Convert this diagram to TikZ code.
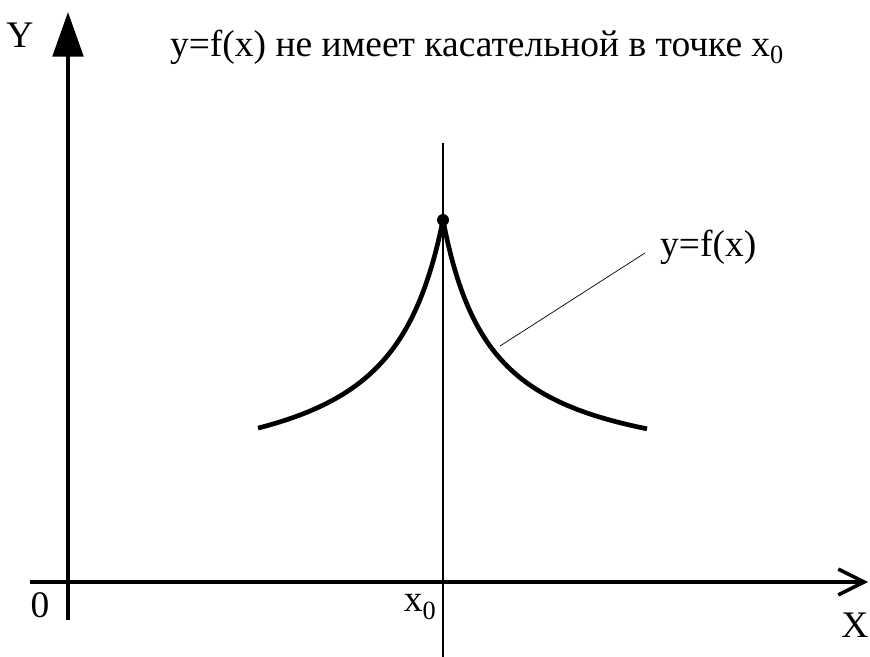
\documentclass[tikz,border=0pt]{standalone}
\usepackage{fontspec}
\setmainfont{Liberation Serif}
\usepackage{tikz}
\usetikzlibrary{arrows.meta,positioning}

\begin{document}
\begin{tikzpicture}[x=0.03cm, y=-0.03cm,
    lbl/.style={font=\fontsize{32}{37}\selectfont, inner sep=0pt},
    axis/.style={line width=3.2pt},
    curve/.style={line width=4pt, line join=round},
    guide/.style={line width=1.2pt},
    leader/.style={line width=0.6pt}]

    \useasboundingbox (0,0) rectangle (870,657);

    % Axes
    \coordinate (xl) at (30,582);
    \coordinate (xr) at (868,582);
    \coordinate (yb) at (68,620);
    \coordinate (yt) at (68,12);
    \draw[axis, -{Straight Barb[length=22, width=22, line width=3pt]}] (xl) -- (xr);
    \draw[axis, -{Triangle[length=38, width=26]}] (yb) -- (yt);

    % Vertical line through x0
    \coordinate (vt) at (443,143);
    \coordinate (vb) at (443,657);
    \draw[guide] (vt) -- (vb);

    % Curve
    \coordinate (peak) at (443,220);
    \draw[curve] plot[domain=-185:0, samples=80] ({443+\x}, {220+270*((-\x)/(55-\x))});
    \draw[curve] plot[domain=0:204, samples=80] ({443+\x}, {220+260*(\x/(\x+50))});
    \fill (peak) circle (6);

    % Labels
    \node[lbl] (ylab) at (20,35) {Y};
    \node[lbl] (xlab) at (855,625) {X};
    \node[lbl] (orig) at (40,605) {0};
    \node[lbl] (xnull) at (420,607) {x\textsubscript{0}};
    \node[lbl] (title) at (477,47) {y=f(x) не имеет касательной в точке x\textsubscript{0}};
    \node[lbl, anchor=west] (flab) at (660,247) {y=f(x)};

    \coordinate (oncurve) at (500,346);
    \draw[leader] (oncurve) -- (645,253);
\end{tikzpicture}
\end{document}
